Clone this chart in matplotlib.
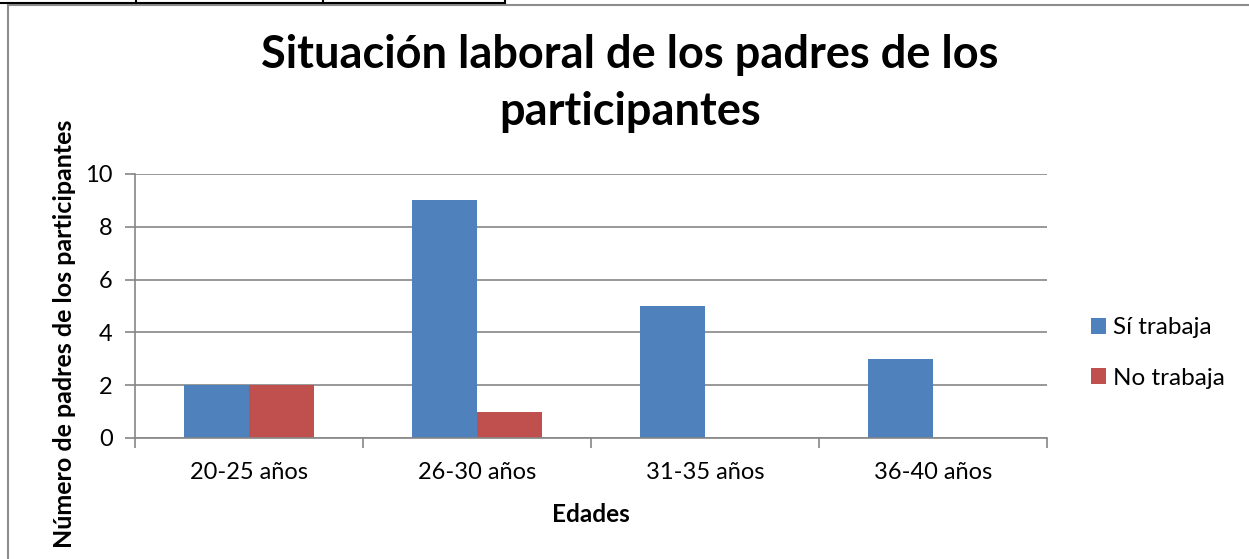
import matplotlib.pyplot as plt
import numpy as np
from matplotlib.lines import Line2D

categories = ['20-25 años', '26-30 años', '31-35 años', '36-40 años']
si_trabaja = [2, 9, 5, 3]
no_trabaja = [2, 1, 0, 0]
series_names = ['Sí trabaja', 'No trabaja']
colors = ['#4F81BD', '#C0504D']

W, H = 1249, 559
plt.rcParams['font.family'] = ['Lato', 'DejaVu Sans']

fig = plt.figure(figsize=(W / 100, H / 100), dpi=100)
ax = fig.add_axes([135 / W, 1 - 438 / H, (1047 - 135) / W, (438 - 174) / H])

x = np.arange(len(categories))
w = 1 / 3.5
ax.bar(x - w / 2, si_trabaja, width=w, color=colors[0], label=series_names[0])
ax.bar(x + w / 2, no_trabaja, width=w, color=colors[1], label=series_names[1])

ax.set_xlim(-0.5, len(categories) - 0.5)
ax.set_ylim(0, 10)
ax.set_yticks(range(0, 11, 2))
ax.yaxis.grid(True, color='#868686', linewidth=1.2)
ax.set_axisbelow(True)

ax.set_xticks(x)
ax.set_xticklabels(categories)
ax.set_xticks(np.arange(-0.5, len(categories)), minor=True)
ax.tick_params(axis='x', which='major', length=0, pad=17, labelsize=17)
ax.tick_params(axis='x', which='minor', length=7, width=1.2, color='#868686', direction='out')
ax.tick_params(axis='y', length=7, width=1.2, color='#868686', labelsize=17, pad=9)

for s in ['top', 'right']:
    ax.spines[s].set_visible(False)
for s in ['left', 'bottom']:
    ax.spines[s].set_color('#868686')
    ax.spines[s].set_linewidth(1.2)

fig.text(591 / W, 1 - 514 / H, 'Edades', ha='center', va='center',
         fontsize=17.5, fontweight='bold')
fig.text(65 / W, 1 - 334 / H, 'Número de padres de los participantes', rotation=90,
         ha='center', va='center', fontsize=18, fontweight='bold')

fig.text(630 / W, 1 - 55 / H, 'Situación laboral de los padres de los',
         ha='center', va='center', fontsize=32.5, fontweight='bold')
fig.text(630 / W, 1 - 112 / H, 'participantes',
         ha='center', va='center', fontsize=32.5, fontweight='bold')

leg = ax.legend(loc='center left', bbox_to_anchor=(1091 / W, 1 - 353 / H),
                bbox_transform=fig.transFigure, frameon=False, fontsize=17.5,
                handlelength=0.6, handleheight=0.6, handletextpad=0.3,
                labelspacing=1.2, borderpad=0, borderaxespad=0)

# outer chart frame and table edge above it
fig.add_artist(Line2D([7.5 / W, 7.5 / W], [0, 1 - 4.5 / H], color='#8c8c8c', lw=1.5,
                      transform=fig.transFigure))
fig.add_artist(Line2D([7.5 / W, 1], [1 - 4.5 / H, 1 - 4.5 / H], color='#8c8c8c', lw=1.5,
                      transform=fig.transFigure))
fig.add_artist(Line2D([0, 505 / W], [1 - 2.5 / H, 1 - 2.5 / H], color='black', lw=1.5,
                      transform=fig.transFigure))
for xv in [136, 323, 505]:
    fig.add_artist(Line2D([xv / W, xv / W], [1 - 2.5 / H, 1], color='black', lw=1.5,
                          transform=fig.transFigure))

fig.savefig('out.png', dpi=100)
